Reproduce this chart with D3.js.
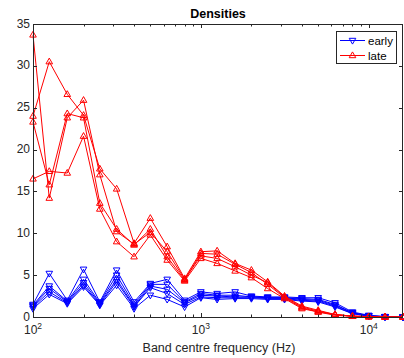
<!DOCTYPE html>
<html lang="en">
<head>
  <meta charset="UTF-8">
  <title>Densities</title>
  <script src="https://cdn.jsdelivr.net/npm/d3@7"></script>
  <style>
    body {
      margin: 0;
      background: #fff;
      overflow: hidden;
    }

    #chart {
      font-family: "Liberation Sans", Arial, sans-serif;
    }
  </style>
</head>
<body>
<svg id="chart" width="404" height="358"></svg>
<script>
  // third-octave band centres (Hz)
  let freqs = [100, 125, 160, 200, 250, 315, 400, 500, 630, 800, 1000, 1250, 1600,
    2000, 2500, 3150, 4000, 5000, 6300, 8000, 10000, 12500, 16000];

  let early1 = [1.5, 5.2, 2.0, 5.7, 1.8, 5.6, 1.8, 4.0, 4.5, 2.0, 3.0, 2.8, 3.0, 2.5, 2.4, 2.4, 2.3, 2.3, 1.7, 0.6, 0.2, 0.05, 0];
  let early2 = [1.4, 3.7, 1.9, 4.5, 1.7, 5.0, 1.5, 3.9, 3.9, 1.8, 2.8, 2.6, 2.6, 2.4, 2.3, 2.3, 2.2, 2.1, 1.5, 0.5, 0.15, 0.04, 0];
  let early3 = [1.3, 3.4, 1.8, 4.1, 1.6, 4.5, 1.3, 3.7, 3.3, 1.7, 2.6, 2.5, 2.4, 2.4, 2.3, 2.3, 2.1, 2.0, 1.4, 0.5, 0.15, 0.03, 0];
  let early4 = [1.2, 3.0, 1.7, 3.8, 1.5, 4.2, 1.2, 3.5, 2.8, 1.5, 2.4, 2.3, 2.3, 2.3, 2.2, 2.2, 2.0, 1.9, 1.3, 0.4, 0.1, 0.02, 0];
  let early5 = [1.0, 2.7, 1.6, 3.6, 1.4, 3.8, 1.0, 2.6, 2.1, 1.2, 2.3, 2.1, 2.2, 2.2, 2.1, 2.1, 1.9, 1.8, 1.2, 0.4, 0.1, 0.02, 0];

  let late1 = [33.7, 14.2, 23.8, 25.9, 17.0, 10.2, 8.7, 10.1, 7.8, 4.5, 7.3, 7.0, 6.0, 5.0, 4.1, 2.4, 1.2, 0.7, 0.3, 0.1, 0.05, 0, 0];
  let late2 = [24.0, 30.5, 26.6, 24.1, 17.7, 15.3, 8.8, 11.8, 8.4, 4.6, 7.8, 7.9, 6.4, 5.6, 4.2, 2.5, 1.3, 0.8, 0.3, 0.1, 0.05, 0, 0];
  let late3 = [23.3, 15.8, 24.3, 23.8, 13.6, 10.5, 8.6, 10.5, 7.2, 4.4, 7.6, 7.5, 6.3, 5.3, 3.9, 2.3, 1.1, 0.6, 0.3, 0.1, 0.03, 0, 0];
  let late4 = [16.5, 17.4, 17.2, 21.6, 12.9, 9.0, 7.2, 9.8, 6.8, 4.3, 7.0, 6.4, 5.5, 4.7, 3.4, 2.2, 1.0, 0.6, 0.2, 0.08, 0.03, 0, 0];

  let yTicks = [0, 5, 10, 15, 20, 25, 30, 35];
  let xDecades = [2, 3, 4];

  let early = [early1, early2, early3, early4, early5];
  let late = [late1, late2, late3, late4];

  let axisColor = "#262626";
  let plotLeft = 33, plotRight = 403, plotTop = 24, plotBottom = 317;

  let svg = d3.select("#chart");

  let x = d3.scaleLog().domain([100, 16000]).range([plotLeft, plotRight]);
  let y = d3.scaleLinear().domain([0, 35]).range([plotBottom, plotTop]);

  let line = d3.line()
      .x((d, i) => x(freqs[i]))
      .y(d => y(d));

  function triangle(up) {
    let s = up ? 1 : -1;
    return `M0,${-3.6 * s}L3.3,${2.2 * s}L-3.3,${2.2 * s}Z`;
  }

  function drawGroup(series, color, up) {
    let g = svg.append("g");
    series.forEach(vals => {
      g.append("path")
          .attr("d", line(vals))
          .attr("fill", "none")
          .attr("stroke", color)
          .attr("stroke-width", 1);
      g.selectAll(null)
          .data(vals)
          .join("path")
          .attr("d", triangle(up))
          .attr("transform", (d, i) => `translate(${x(freqs[i])},${y(d)})`)
          .attr("fill", "none")
          .attr("stroke", color)
          .attr("stroke-width", 1);
    });
  }

  // lines and markers
  drawGroup(early, "#0000ff", false);
  drawGroup(late, "#ff0000", true);

  // axes box with inward ticks
  let axes = svg.append("g")
      .attr("stroke", axisColor)
      .attr("stroke-width", 1)
      .attr("fill", "none");

  axes.append("rect")
      .attr("x", plotLeft + 0.5)
      .attr("y", plotTop + 0.5)
      .attr("width", plotRight - plotLeft - 1)
      .attr("height", plotBottom - plotTop);

  yTicks.forEach(t => {
    let yy = Math.round(y(t)) + 0.5;
    axes.append("line").attr("x1", plotLeft).attr("x2", plotLeft + 4).attr("y1", yy).attr("y2", yy);
    axes.append("line").attr("x1", plotRight - 4).attr("x2", plotRight).attr("y1", yy).attr("y2", yy);
  });

  let xTicks = [];
  [100, 1000, 10000].forEach(dec => {
    for (let k = 1; k <= 9; k++) {
      let f = dec * k;
      if (f <= 16000) xTicks.push({f: f, major: k === 1});
    }
  });
  xTicks.forEach(t => {
    let xx = Math.round(x(t.f)) + 0.5;
    let len = t.major ? 4 : 2.5;
    axes.append("line").attr("x1", xx).attr("x2", xx).attr("y1", plotBottom).attr("y2", plotBottom - len);
    axes.append("line").attr("x1", xx).attr("x2", xx).attr("y1", plotTop).attr("y2", plotTop + len);
  });

  // tick labels
  svg.append("g")
      .selectAll("text")
      .data(yTicks)
      .join("text")
      .attr("x", plotLeft - 3)
      .attr("y", d => y(d) + 3.5)
      .attr("text-anchor", "end")
      .attr("font-size", 12)
      .attr("fill", axisColor)
      .text(d => d);

  let xl = svg.append("g")
      .selectAll("text")
      .data(xDecades)
      .join("text")
      .attr("x", d => x(Math.pow(10, d)) - 9)
      .attr("y", 334)
      .attr("font-size", 12)
      .attr("fill", axisColor);
  xl.append("tspan").text("10");
  xl.append("tspan")
      .attr("dy", -5)
      .attr("font-size", 8.5)
      .text(d => d);

  svg.append("text")
      .attr("x", 219)
      .attr("y", 352)
      .attr("text-anchor", "middle")
      .attr("font-size", 12.5)
      .attr("fill", axisColor)
      .text("Band centre frequency (Hz)");

  svg.append("text")
      .attr("x", 218)
      .attr("y", 18)
      .attr("text-anchor", "middle")
      .attr("font-size", 12.5)
      .attr("font-weight", "bold")
      .attr("fill", "#000")
      .text("Densities");

  // legend
  let legend = svg.append("g");
  legend.append("rect")
      .attr("x", 336.5)
      .attr("y", 31.5)
      .attr("width", 60)
      .attr("height", 32)
      .attr("fill", "#fff")
      .attr("stroke", axisColor)
      .attr("stroke-width", 1);

  let items = [{name: "early", color: "#0000ff", up: false, y: 40.5},
    {name: "late", color: "#ff0000", up: true, y: 55.5}];
  items.forEach(it => {
    legend.append("line")
        .attr("x1", 340).attr("x2", 365)
        .attr("y1", it.y).attr("y2", it.y)
        .attr("stroke", it.color)
        .attr("stroke-width", 1);
    legend.append("path")
        .attr("d", triangle(it.up))
        .attr("transform", `translate(352.5,${it.y})`)
        .attr("fill", "none")
        .attr("stroke", it.color)
        .attr("stroke-width", 1);
    legend.append("text")
        .attr("x", 368)
        .attr("y", it.y + 4)
        .attr("font-size", 11.5)
        .attr("fill", "#000")
        .text(it.name);
  });
</script>
</body>
</html>
